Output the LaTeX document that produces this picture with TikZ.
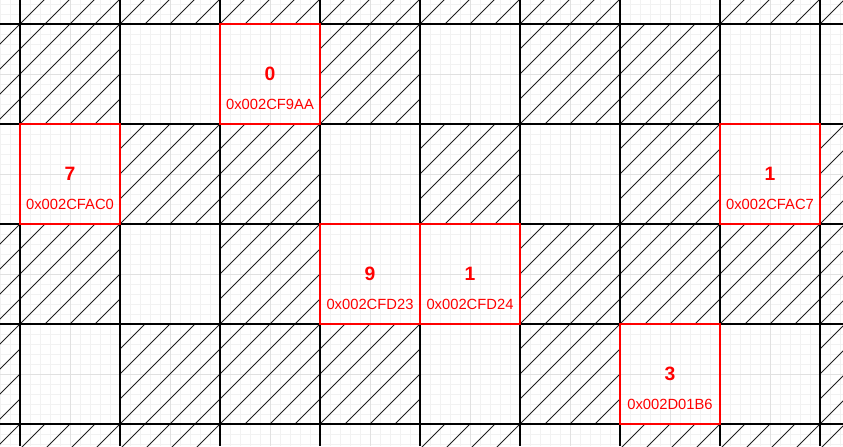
\documentclass[tikz,border=0pt]{standalone}
\usepackage{fontspec}
\setmainfont{Liberation Sans}
\usepackage{tikz}
\usetikzlibrary{positioning}
\definecolor{memred}{RGB}{255,0,0}
\definecolor{gridminor}{RGB}{242,242,242}
\definecolor{gridmajor}{RGB}{225,225,225}
\definecolor{hatchgray}{RGB}{30,30,30}

\begin{document}
\begin{tikzpicture}[x=0.2mm,y=-0.2mm,
    cellline/.style={black,line width=0.8pt},
    hatch/.style={hatchgray,line width=0.55pt},
    slot/.style={draw=memred,line width=1.4pt,minimum size=20mm,inner sep=0pt},
    num/.style={text=memred,font=\fontsize{11}{12}\selectfont\bfseries},
    addr/.style={text=memred,font=\fontsize{8.4}{10}\selectfont}]
    \useasboundingbox (0,0) rectangle (843,446);
    \clip (0,0) rectangle (843,446);
    % background grid
    \foreach \x in {0,10,...,840} \draw[gridminor,line width=0.5pt] (\x,0) -- (\x,446);
    \foreach \y in {4,14,...,444} \draw[gridminor,line width=0.5pt] (0,\y) -- (843,\y);
    \foreach \x in {20,70,...,820} \draw[gridmajor,line width=0.5pt] (\x,0) -- (\x,446);
    \foreach \y in {24,74,...,424} \draw[gridmajor,line width=0.5pt] (0,\y) -- (843,\y);
    % hatched cells (column/row)
    \foreach \col/\row in {0/-1,1/-1,2/-1,3/-1,4/-1,5/-1,7/-1,8/-1,
                           -1/0,0/0,3/0,5/0,6/0,
                           1/1,2/1,4/1,6/1,8/1,
                           -1/2,0/2,2/2,5/2,6/2,7/2,8/2,
                           -1/3,1/3,2/3,3/3,5/3,8/3,
                           -1/4,0/4,1/4,4/4,6/4,7/4,8/4}{
        \foreach \k in {0,...,3}
            \draw[hatch] ({20+100*\col},{124+100*\row-25*\k}) -- ({120+100*\col-25*\k},{24+100*\row});
        \foreach \k in {1,2,3}
            \draw[hatch] ({20+100*\col+25*\k},{124+100*\row}) -- ({120+100*\col},{24+100*\row+25*\k});
    }
    % cell borders
    \foreach \x in {20,120,...,820} \draw[cellline] (\x,0) -- (\x,446);
    \foreach \y in {24,124,...,424} \draw[cellline] (0,\y) -- (843,\y);
    % occupied slots
    \foreach \cx/\cy/\v/\adr/\nm in {270/74/0/0x002CF9AA/a, 70/174/7/0x002CFAC0/b,
                                      770/174/1/0x002CFAC7/c, 370/274/9/0x002CFD23/d,
                                      470/274/1/0x002CFD24/e, 670/374/3/0x002D01B6/f}{
        \node[slot] (slot\nm) at (\cx,\cy) {};
        \node[num] (val\nm) at (slot\nm.center) {\v};
        \node[addr] (adr\nm) at (\cx,\cy+30) {\adr};
    }
\end{tikzpicture}
\end{document}
